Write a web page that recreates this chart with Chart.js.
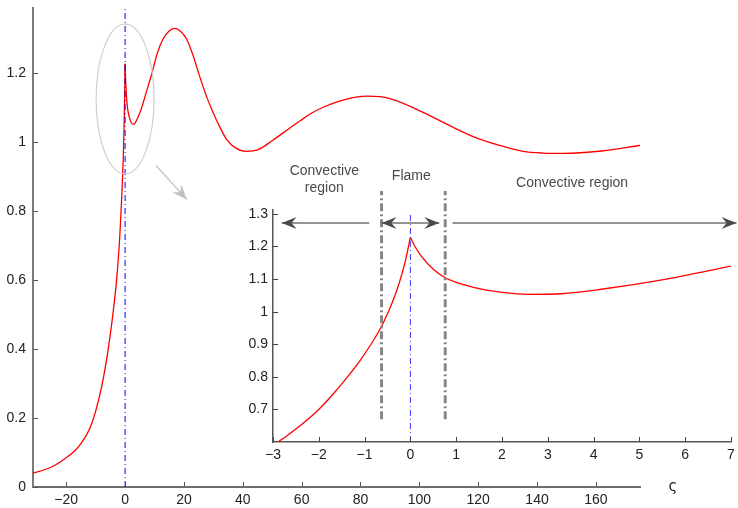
<!DOCTYPE html>
<html>
<head>
<meta charset="utf-8">
<script src="https://cdn.jsdelivr.net/npm/chart.js@4.4.1/dist/chart.umd.min.js"></script>
<style>
body { margin: 0; background: #fff; }
#wrap { position: relative; width: 738px; height: 508px; }
canvas { position: absolute; left: 0; top: 0; }
</style>
</head>
<body>
<div id="wrap">
<canvas id="main" width="738" height="508"></canvas>
<canvas id="inset" width="738" height="508"></canvas>
</div>
<script>
// profile: zeta (x) and theta (y)
var zeta = [-31.3, -25, -20, -17, -15, -12, -10, -8, -6, -5, -4, -3, -2.5, -2, -1.7, -1.4, -1.1, -0.86, -0.65, -0.48, -0.35, -0.24, -0.12, 0,
    0.1, 0.25, 0.5, 0.75, 1, 1.5, 2, 2.6, 3.3, 4.13, 5.59, 7, 9.1, 11, 12.9, 14.8, 16.9, 18.9, 20.9, 23, 25.4,
    27.6, 29.9, 32, 34.5, 37.5, 41.3, 45, 50, 56, 59.4, 63, 67.3, 75, 82.2, 90, 101.3, 110, 118.3, 127,
    135.3, 142, 148.9, 162, 175];
var theta = [0.040, 0.058, 0.085, 0.106, 0.126, 0.170, 0.220, 0.290, 0.385, 0.445, 0.512, 0.590, 0.640, 0.700, 0.745, 0.795, 0.850, 0.900, 0.950, 1.000, 1.045, 1.090, 1.150, 1.228,
    1.200, 1.168, 1.130, 1.105, 1.090, 1.071, 1.059, 1.053, 1.055, 1.068, 1.100, 1.140, 1.200, 1.260, 1.300, 1.322, 1.331, 1.322, 1.300, 1.255, 1.190,
    1.135, 1.087, 1.048, 1.009, 0.984, 0.974, 0.978, 1.005, 1.042, 1.062, 1.083, 1.102, 1.125, 1.134, 1.127, 1.087, 1.050, 1.017, 0.992,
    0.974, 0.969, 0.968, 0.975, 0.991];
var peakIndex = 23; // the flame sits at zeta = 0

var mainXTicks = [-20, 0, 20, 40, 60, 80, 100, 120, 140, 160];
var mainYTicks = [0, 0.2, 0.4, 0.6, 0.8, 1, 1.2];
var insetXTicks = [-3, -2, -1, 0, 1, 2, 3, 4, 5, 6, 7];
var insetYTicks = [0.7, 0.8, 0.9, 1, 1.1, 1.2, 1.3];
var flameEdges = [-0.63, 0.76];

Chart.defaults.font.family = "'Liberation Sans', Arial, sans-serif";
Chart.defaults.font.size = 14;
Chart.defaults.color = '#222';

function pts(a, b) {
    var out = [];
    for (var i = a; i <= b; i++) out.push({x: zeta[i], y: theta[i]});
    return out;
}
function fmt(v) {
    return String(Math.round(v * 10) / 10).replace('-', '\u2212');
}
function curve(data) {
    return {data: data, borderColor: '#ff0000', borderWidth: 1.3, pointRadius: 0,
        cubicInterpolationMode: 'monotone', fill: false};
}
function vline(x, y0, y1, color, width, dash, noClip) {
    return {data: [{x: x, y: y0}, {x: x, y: y1}], borderColor: color, borderWidth: width,
        borderDash: dash, pointRadius: 0, fill: false, clip: noClip ? false : undefined};
}
function noPad(s) {
    s.paddingTop = 0; s.paddingBottom = 0; s.paddingLeft = 0; s.paddingRight = 0;
}

// matlab style ticks pointing into the plot
var innerTicks = {
    id: 'innerTicks',
    afterDraw: function(chart) {
        var o = chart.options.plugins.innerTicks, a = chart.chartArea, ctx = chart.ctx;
        var sx = chart.scales.x, sy = chart.scales.y;
        ctx.save();
        ctx.strokeStyle = o.color;
        ctx.lineWidth = 1;
        ctx.beginPath();
        sx.ticks.forEach(function(t) {
            var p = Math.round(sx.getPixelForValue(t.value)) + 0.5;
            ctx.moveTo(p, a.bottom); ctx.lineTo(p, a.bottom - 5);
        });
        sy.ticks.forEach(function(t) {
            var p = Math.round(sy.getPixelForValue(t.value)) + 0.5;
            ctx.moveTo(a.left, p); ctx.lineTo(a.left + 5, p);
        });
        ctx.stroke();
        ctx.restore();
    }
};

function arrowHead(ctx, x1, y1, x2, y2, len, w) {
    var ang = Math.atan2(y2 - y1, x2 - x1);
    var c = Math.cos(ang), s = Math.sin(ang);
    ctx.beginPath();
    ctx.moveTo(x2, y2);
    ctx.lineTo(x2 - c * len - s * w, y2 - s * len + c * w);
    ctx.lineTo(x2 - c * len * 0.65, y2 - s * len * 0.65);
    ctx.lineTo(x2 - c * len + s * w, y2 - s * len - c * w);
    ctx.closePath();
    ctx.fill();
}
function arrow(ctx, x1, y1, x2, y2, line, head, both) {
    ctx.strokeStyle = line;
    ctx.fillStyle = head;
    ctx.lineWidth = 1.5;
    ctx.beginPath();
    ctx.moveTo(x1, y1); ctx.lineTo(x2, y2);
    ctx.stroke();
    arrowHead(ctx, x1, y1, x2, y2, 15, 6);
    if (both) arrowHead(ctx, x2, y2, x1, y1, 15, 6);
}

var mainMarks = {
    id: 'mainMarks',
    afterDraw: function(chart) {
        var ctx = chart.ctx, sx = chart.scales.x, sy = chart.scales.y, a = chart.chartArea;
        ctx.save();
        // zoom ellipse around the flame
        var cx = sx.getPixelForValue(0), cy = sy.getPixelForValue(1.126);
        var rx = sx.getPixelForValue(9.85) - cx, ry = cy - sy.getPixelForValue(1.343);
        ctx.strokeStyle = '#cfcfcf';
        ctx.lineWidth = 1.2;
        ctx.beginPath();
        ctx.ellipse(cx, cy, rx, ry, 0, 0, Math.PI * 2);
        ctx.stroke();
        arrow(ctx, sx.getPixelForValue(10.5), sy.getPixelForValue(0.933),
            sx.getPixelForValue(21), sy.getPixelForValue(0.834), '#c8c8c8', '#c0c0c0', false);
        ctx.fillStyle = '#222';
        ctx.font = "15px 'DejaVu Sans', sans-serif";
        ctx.textAlign = 'center';
        ctx.textBaseline = 'middle';
        ctx.fillText('\u03c2', a.right + 33, a.bottom);
        ctx.restore();
    }
};

var insetMarks = {
    id: 'insetMarks',
    afterDraw: function(chart) {
        var ctx = chart.ctx, sx = chart.scales.x, sy = chart.scales.y;
        var ya = sy.getPixelForValue(1.272);
        ctx.save();
        arrow(ctx, sx.getPixelForValue(-0.9), ya, sx.getPixelForValue(-2.81), ya, '#707070', '#4a4a4a', false);
        arrow(ctx, sx.getPixelForValue(-0.63), ya, sx.getPixelForValue(0.63), ya, '#707070', '#4a4a4a', true);
        arrow(ctx, sx.getPixelForValue(0.92), ya, sx.getPixelForValue(7.12), ya, '#707070', '#4a4a4a', false);
        ctx.fillStyle = '#4a4a4a';
        ctx.font = "14px 'Liberation Sans', Arial, sans-serif";
        ctx.textAlign = 'center';
        ctx.textBaseline = 'middle';
        ctx.fillText('Convective', sx.getPixelForValue(-1.88), sy.getPixelForValue(1.43));
        ctx.fillText('region', sx.getPixelForValue(-1.88), sy.getPixelForValue(1.38));
        ctx.fillText('Flame', sx.getPixelForValue(0.02), sy.getPixelForValue(1.417));
        ctx.fillText('Convective region', sx.getPixelForValue(3.53), sy.getPixelForValue(1.393));
        ctx.restore();
    }
};

new Chart(document.getElementById('main').getContext('2d'), {
    type: 'line',
    data: {
        datasets: [
            vline(0, 0, 1.39, '#0000ff', 1, [6, 3, 1, 3]),
            curve(pts(0, peakIndex)),
            curve(pts(peakIndex, zeta.length - 1))
        ]
    },
    options: {
        responsive: false,
        animation: false,
        layout: {padding: {top: 8, right: 98, left: 0, bottom: 0}},
        plugins: {legend: {display: false}, tooltip: {enabled: false},
            innerTicks: {color: '#555'}},
        scales: {
            x: {
                type: 'linear', min: -31.3, max: 175,
                grid: {display: false, drawTicks: false},
                border: {display: true, color: '#6e6e6e', width: 2},
                ticks: {padding: 5, maxRotation: 0, callback: fmt},
                afterBuildTicks: function(s) { s.ticks = mainXTicks.map(function(v) { return {value: v}; }); },
                afterFit: function(s) { s.height = 21; noPad(s); }
            },
            y: {
                type: 'linear', min: 0, max: 1.39,
                grid: {display: false, drawTicks: false},
                border: {display: true, color: '#7a7a7a', width: 2},
                ticks: {padding: 7, callback: fmt},
                afterBuildTicks: function(s) { s.ticks = mainYTicks.map(function(v) { return {value: v}; }); },
                afterFit: function(s) { s.width = 33; noPad(s); }
            }
        }
    },
    plugins: [innerTicks, mainMarks]
});

new Chart(document.getElementById('inset').getContext('2d'), {
    type: 'line',
    data: {
        datasets: [
            vline(0, 0.6, 1.3, '#3b3bff', 1, [6, 3, 1, 3]),
            vline(flameEdges[0], 0.67, 1.37, '#888888', 3, [8, 3, 2, 3], true),
            vline(flameEdges[1], 0.67, 1.37, '#888888', 3, [8, 3, 2, 3], true),
            curve(pts(0, peakIndex)),
            curve(pts(peakIndex, zeta.length - 1))
        ]
    },
    options: {
        responsive: false,
        animation: false,
        layout: {padding: {top: 210, right: 7, left: 233, bottom: 46}},
        plugins: {legend: {display: false}, tooltip: {enabled: false},
            innerTicks: {color: '#444'}},
        scales: {
            x: {
                type: 'linear', min: -3, max: 7,
                grid: {display: false, drawTicks: false},
                border: {display: true, color: '#555', width: 1.5},
                ticks: {padding: 5, maxRotation: 0, callback: fmt},
                afterBuildTicks: function(s) { s.ticks = insetXTicks.map(function(v) { return {value: v}; }); },
                afterFit: function(s) { s.height = 20; noPad(s); }
            },
            y: {
                type: 'linear', min: 0.6, max: 1.312,
                grid: {display: false, drawTicks: false},
                border: {display: true, color: '#555', width: 1.5},
                ticks: {padding: 5, callback: fmt},
                afterBuildTicks: function(s) { s.ticks = insetYTicks.map(function(v) { return {value: v}; }); },
                afterFit: function(s) { s.width = 40; noPad(s); }
            }
        }
    },
    plugins: [innerTicks, insetMarks]
});
</script>
</body>
</html>
